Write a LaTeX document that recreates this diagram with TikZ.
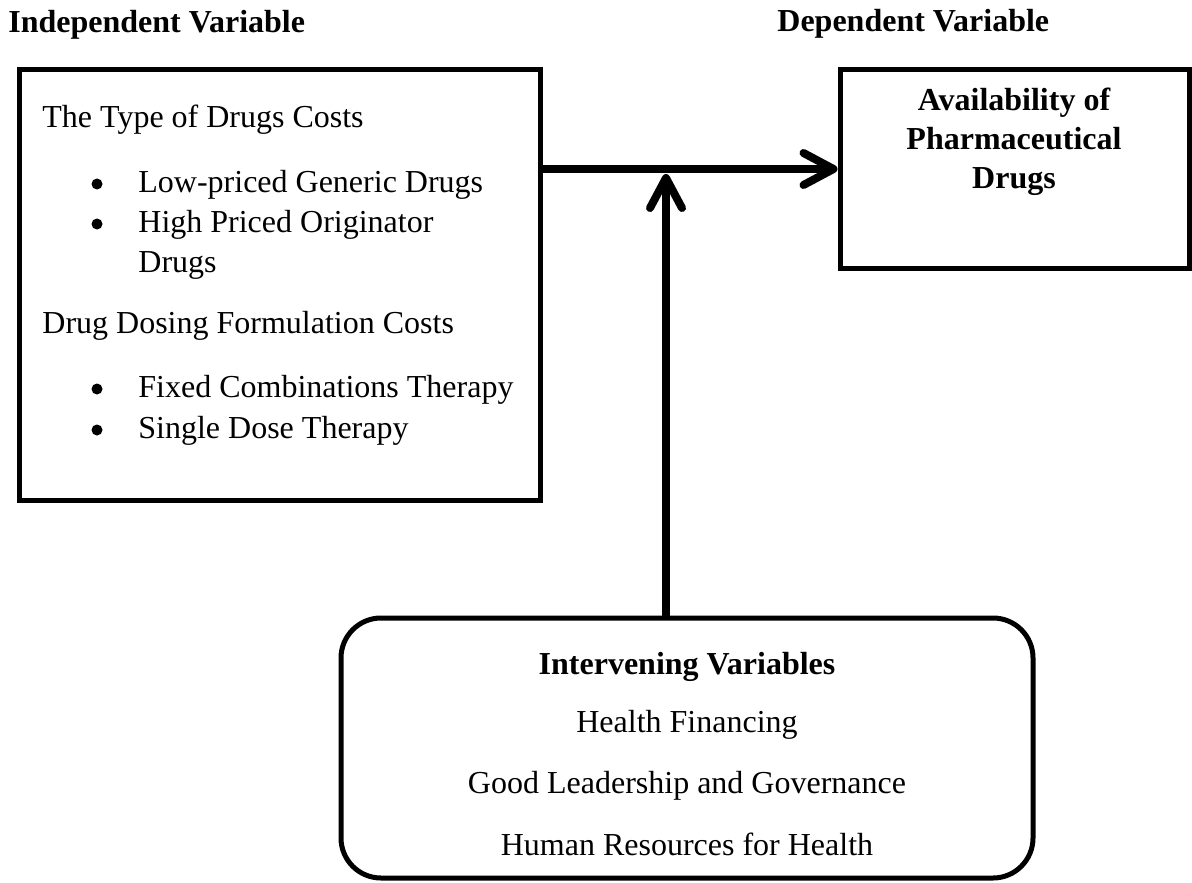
\documentclass[tikz,border=0pt]{standalone}
\usepackage{fontspec}
\setmainfont{Liberation Serif}
\usetikzlibrary{arrows.meta}
\begin{document}
\begin{tikzpicture}[x=0.5pt,y=-0.5pt,
  box/.style={draw, line width=2.5pt, rectangle, inner sep=0pt, fill=white},
  arr/.style={line width=4pt, -{Straight Barb[length=15pt,width=16pt,round]}},
  txt/.style={font=\fontsize{16}{19}\selectfont, inner sep=0pt, anchor=base west},
  ttl/.style={font=\fontsize{16}{19}\selectfont\bfseries, inner sep=0pt, anchor=base west},
  ctr/.style={font=\fontsize{16}{19}\selectfont, inner sep=0pt, anchor=base},
  ctrb/.style={font=\fontsize{16}{19}\selectfont\bfseries, inner sep=0pt, anchor=base},
  bul/.style={circle, fill, inner sep=0pt, minimum size=5.5pt}
]
\useasboundingbox (0,0) rectangle (1192,882);
% titles
\node[ttl] (indep) at (8,33) {Independent Variable};
\node[ttl] (dep) at (777,32) {Dependent Variable};
% boxes
\node[box, minimum width=260.5pt, minimum height=215pt] (lbox) at (279.5,285) {};
\node[box, minimum width=174.5pt, minimum height=99pt] (rbox) at (1014.5,169) {};
\node[box, rounded corners=20pt, minimum width=346pt, minimum height=130pt] (bbox) at (687,748) {};
% left box text
\node[txt] (t1) at (42,128) {The Type of Drugs Costs};
\node[bul] (b1) at (97,184) {};
\node[txt] (l1) at (138,192) {Low-priced Generic Drugs};
\node[bul] (b2) at (97,224) {};
\node[txt] (l2) at (138,232) {High Priced Originator};
\node[txt] (l3) at (138,272) {Drugs};
\node[txt] (t2) at (42,333) {Drug Dosing Formulation Costs};
\node[bul] (b3) at (97,389) {};
\node[txt] (l4) at (138,397) {Fixed Combinations Therapy};
\node[bul] (b4) at (97,430) {};
\node[txt] (l5) at (138,438) {Single Dose Therapy};
% right box text
\node[ctrb] (r1) at (1014,111) {Availability of};
\node[ctrb] (r2) at (1014,150) {Pharmaceutical};
\node[ctrb] (r3) at (1014,189) {Drugs};
% bottom box text
\node[ctrb] (i0) at (687,674) {Intervening Variables};
\node[ctr] (i1) at (687,732) {Health Financing};
\node[ctr] (i2) at (687,793) {Good Leadership and Governance};
\node[ctr] (i3) at (687,855) {Human Resources for Health};
% connectors
\coordinate (join) at (666,174);
\draw[arr] (lbox.east |- rbox.west) -- (rbox.west);
\draw[arr] (join |- bbox.north) -- (join);
\end{tikzpicture}
\end{document}
